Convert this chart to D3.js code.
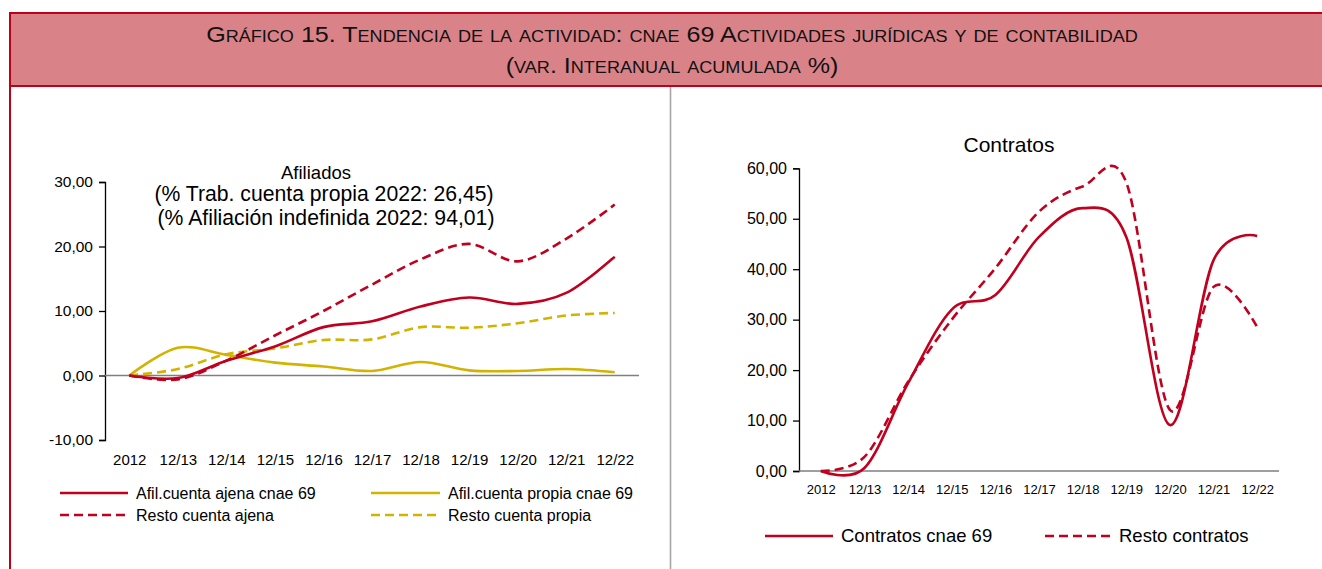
<!DOCTYPE html>
<html>
<head>
<meta charset="utf-8">
<script src="https://cdn.jsdelivr.net/npm/d3@7"></script>
<style>
  body { margin: 0; background: #fff; }
  text { font-family: "Liberation Sans", Arial, sans-serif; fill: #000; }
</style>
</head>
<body>
<div id="chart"></div>
<script>
// categories
const years = ["2012", "12/13", "12/14", "12/15", "12/16", "12/17", "12/18", "12/19", "12/20", "12/21", "12/22"];

// afiliados (var. interanual acumulada %)
const ajena69 = [0, -0.4, 2.3, 4.5, 7.5, 8.4, 10.7, 12.1, 11.1, 12.8, 18.4];
const restoAjena = [0, -0.6, 2.3, 6.2, 10.0, 14.1, 18.0, 20.4, 17.7, 21.2, 26.5];
const propia69 = [0, 4.3, 3.2, 2.0, 1.4, 0.7, 2.1, 0.8, 0.7, 1.0, 0.5];
const restoPropia = [0, 1.0, 3.3, 4.2, 5.5, 5.6, 7.5, 7.4, 8.1, 9.3, 9.7];

// contratos
const contratos69 = [0, 0.6, 17.4, 32.0, 34.9, 46.4, 52.1, 46.4, 9.1, 41.8, 46.6];
const restoContratos = [0, 2.8, 17.7, 30.0, 40.2, 51.4, 56.4, 57.2, 12.1, 36.5, 28.5];

// tick labels
const afilTicks = [-10, 0, 10, 20, 30];
const contTicks = [0, 10, 20, 30, 40, 50, 60];

const RED = "#c0001e";
const YELLOW = "#d1b300";
const DASH = "9,5";

const W = 1322, H = 569;
const svg = d3.select("#chart").append("svg")
    .attr("width", W)
    .attr("height", H);

const fmt = d => d3.format(".2f")(d).replace(".", ",").replace("−", "-");

// header band
svg.append("rect")
    .attr("x", 10).attr("y", 13)
    .attr("width", W - 10).attr("height", 73)
    .attr("fill", "#d98389");
svg.append("line").attr("x1", 9).attr("x2", W).attr("y1", 13).attr("y2", 13)
    .attr("stroke", "#c00018").attr("stroke-width", 2);
svg.append("line").attr("x1", 9).attr("x2", W).attr("y1", 86).attr("y2", 86)
    .attr("stroke", "#c00018").attr("stroke-width", 2);
svg.append("line").attr("x1", 10).attr("x2", 10).attr("y1", 12).attr("y2", H)
    .attr("stroke", "#c00018").attr("stroke-width", 2);
svg.append("line").attr("x1", 670.5).attr("x2", 670.5).attr("y1", 87).attr("y2", H)
    .attr("stroke", "#a6a6a6").attr("stroke-width", 1.6);

// header title, a bit stretched sideways like the original
const header = svg.append("g").attr("transform", "translate(672,0) scale(1.14,1)");
const ht = header.append("text")
    .attr("text-anchor", "middle")
    .style("font-variant", "small-caps")
    .style("font-size", "22px")
    .style("fill", "#111");
ht.append("tspan").attr("x", 0).attr("y", 42)
    .text("Gráfico 15. Tendencia de la actividad: cnae 69 Actividades jurídicas y de contabilidad");
ht.append("tspan").attr("x", 0).attr("y", 73)
    .text("(var. Interanual acumulada %)");

// draws one panel: y axis, category labels, zero line and smoothed lines
function panel(opt) {
    const g = svg.append("g");
    const x = d3.scalePoint().domain(years).range(opt.xr).padding(0.5);
    const y = d3.scaleLinear().domain(d3.extent(opt.ticks)).range(opt.yr);

    const yAxis = g.append("g")
        .attr("transform", `translate(${opt.xr[0]},0)`)
        .call(d3.axisLeft(y).tickValues(opt.ticks).tickFormat(fmt).tickSizeOuter(0).tickSize(6).tickPadding(6));
    yAxis.select(".domain").attr("stroke", "#000").attr("stroke-width", 1.3);
    yAxis.selectAll(".tick line").attr("stroke", "#000").attr("stroke-width", 1.3);
    yAxis.selectAll("text").style("font-size", opt.yFont + "px").style("font-family", null);

    // zero line
    g.append("line")
        .attr("x1", opt.xr[0]).attr("x2", opt.xr[1])
        .attr("y1", y(0)).attr("y2", y(0))
        .attr("stroke", "#7f7f7f").attr("stroke-width", 1.3);

    const xAxis = g.append("g")
        .attr("transform", `translate(0,${opt.xLabelY})`)
        .call(d3.axisBottom(x).tickSize(0).tickPadding(0));
    xAxis.select(".domain").remove();
    xAxis.selectAll("text").style("font-size", opt.xFont + "px").style("font-family", null);

    const line = d3.line()
        .x((d, i) => x(years[i]))
        .y(d => y(d))
        .curve(d3.curveCardinal.tension(0));

    opt.series.forEach(s => {
        g.append("path")
            .datum(s.values)
            .attr("d", line)
            .attr("fill", "none")
            .attr("stroke", s.color)
            .attr("stroke-width", 2.6)
            .attr("stroke-dasharray", s.dash ? DASH : null);
    });

    // titles
    opt.title.forEach(s => {
        g.append("text")
            .attr("text-anchor", "middle")
            .attr("x", s.x).attr("y", s.y)
            .style("font-size", s.size + "px")
            .text(s.text);
    });

    // legend
    opt.legend.forEach(l => {
        g.append("line")
            .attr("x1", l.x).attr("x2", l.x + l.len)
            .attr("y1", l.y).attr("y2", l.y)
            .attr("stroke", l.color).attr("stroke-width", 2.6)
            .attr("stroke-dasharray", l.dash ? DASH : null);
        g.append("text")
            .attr("x", l.x + l.len + 8).attr("y", l.y)
            .attr("dy", "0.35em")
            .style("font-size", opt.legendFont + "px")
            .text(l.name);
    });
}

panel({
    xr: [105, 639], yr: [440, 182], ticks: afilTicks,
    yFont: 15.5, xFont: 15, xLabelY: 454,
    title: [
        { text: "Afiliados", x: 316, y: 179, size: 18.5 },
        { text: "(% Trab. cuenta propia 2022: 26,45)", x: 324, y: 201, size: 21.2 },
        { text: "(% Afiliación indefinida 2022: 94,01)", x: 326, y: 225, size: 21.2 }
    ],
    legendFont: 16,
    series: [
        { values: restoPropia, color: YELLOW, dash: true },
        { values: propia69, color: YELLOW, dash: false },
        { values: restoAjena, color: RED, dash: true },
        { values: ajena69, color: RED, dash: false }
    ],
    legend: [
        { name: "Afil.cuenta ajena cnae 69", color: RED, dash: false, x: 60, y: 493, len: 68 },
        { name: "Afil.cuenta propia cnae 69", color: YELLOW, dash: false, x: 371, y: 493, len: 69 },
        { name: "Resto cuenta ajena", color: RED, dash: true, x: 60, y: 515, len: 68 },
        { name: "Resto cuenta propia", color: YELLOW, dash: true, x: 371, y: 515, len: 69 }
    ]
});

panel({
    xr: [799, 1279], yr: [471, 168.3], ticks: contTicks,
    yFont: 16, xFont: 13, xLabelY: 485,
    title: [{ text: "Contratos", x: 1009, y: 152, size: 21 }],
    legendFont: 18.5,
    series: [
        { values: restoContratos, color: RED, dash: true },
        { values: contratos69, color: RED, dash: false }
    ],
    legend: [
        { name: "Contratos cnae 69", color: RED, dash: false, x: 765, y: 536, len: 68 },
        { name: "Resto contratos", color: RED, dash: true, x: 1045, y: 536, len: 66 }
    ]
});
</script>
</body>
</html>
